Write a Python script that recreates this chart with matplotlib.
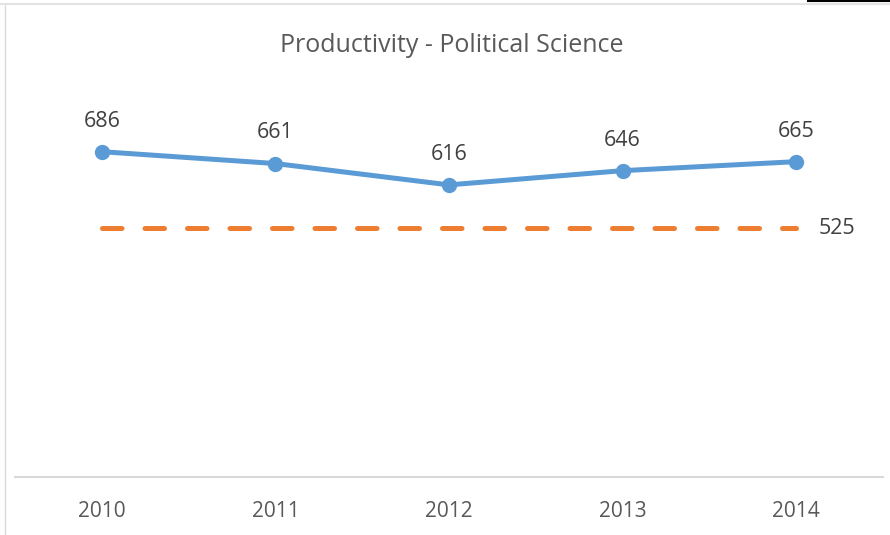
import matplotlib
matplotlib.use('Agg')
import matplotlib.pyplot as plt
from matplotlib.lines import Line2D

years = ['2010', '2011', '2012', '2013', '2014']
productivity = [686, 661, 616, 646, 665]
benchmark = [525, 525, 525, 525, 525]

BLUE = '#5B9BD5'
ORANGE = '#ED7D31'
TEXT = '#595959'

plt.rcParams['font.family'] = ['Open Sans', 'DejaVu Sans']

fig = plt.figure(figsize=(8.9, 5.35), dpi=100)
ax = fig.add_axes([15 / 890, 58 / 535, 868 / 890, 377 / 535])

x = list(range(len(years)))
ax.plot(x, productivity, color=BLUE, linewidth=3.6, marker='o', markersize=10,
        solid_capstyle='round', zorder=3)
ax.plot(x, benchmark, color=ORANGE, linewidth=3.6, linestyle=(0, (3.9, 4.6)),
        dash_capstyle='round', zorder=2)

for xi, v in zip(x, productivity):
    ax.annotate(str(v), (xi, v), xytext=(0, 22), textcoords='offset points',
                ha='center', va='center', fontsize=15.5, color='#404040')
ax.annotate(str(benchmark[-1]), (x[-1], benchmark[-1]), xytext=(16.5, 0),
            textcoords='offset points', ha='left', va='center',
            fontsize=15.5, color='#404040')

ax.set_xlim(-0.5, len(years) - 0.5)
ax.set_ylim(0, 795)
ax.set_xticks(x)
ax.set_xticklabels(years, fontsize=15, color=TEXT)
ax.set_yticks([])
ax.tick_params(axis='x', length=0, pad=17)
for side in ['top', 'right', 'left']:
    ax.spines[side].set_visible(False)
ax.spines['bottom'].set_color('#D9D9D9')
ax.spines['bottom'].set_linewidth(1.5)

fig.text(452 / 890, 1 - 45.5 / 535, 'Productivity - Political Science',
         ha='center', va='center', fontsize=18, color=TEXT)

# chart frame remnants
fig.add_artist(Line2D([4.5 / 890, 4.5 / 890], [0, 1 - 4 / 535],
                      color='#D9D9D9', linewidth=1))
fig.add_artist(Line2D([0, 1], [1 - 3.5 / 535, 1 - 3.5 / 535],
                      color='#E3E3E3', linewidth=1.5))
fig.add_artist(Line2D([808 / 890, 1], [1 - 0.7 / 535, 1 - 0.7 / 535],
                      color='black', linewidth=1.5))

fig.savefig('out.png', dpi=100)
